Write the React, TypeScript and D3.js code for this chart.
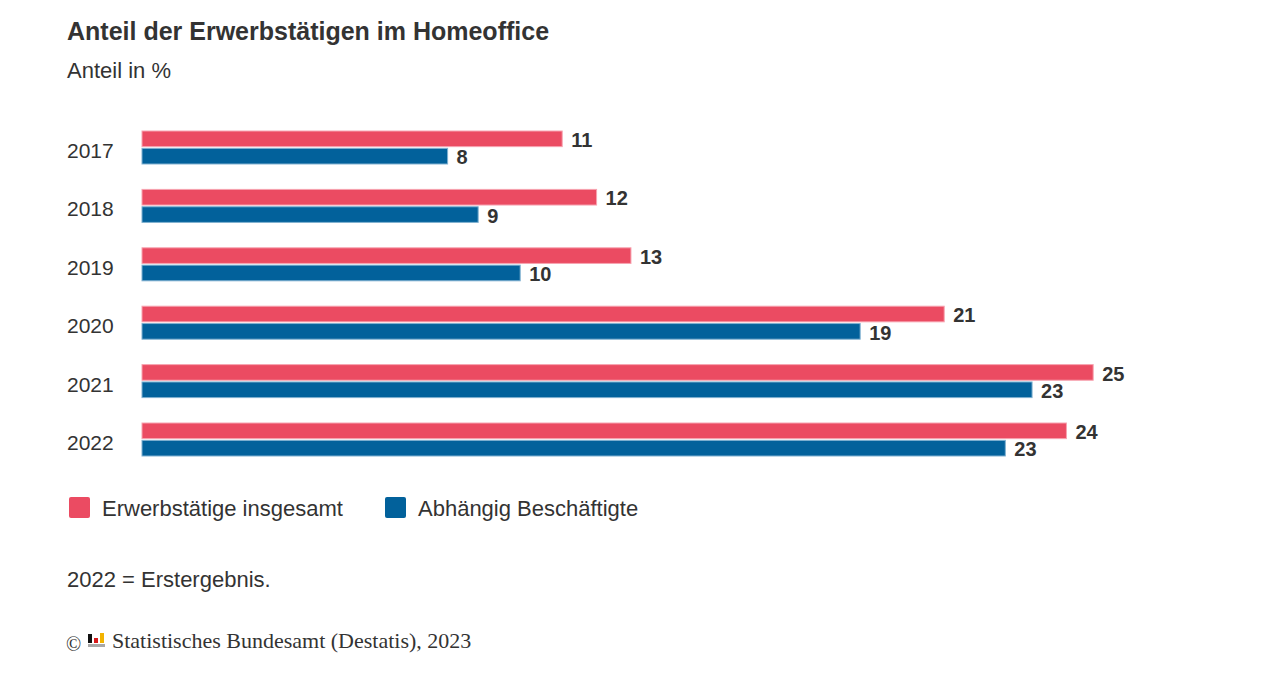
import React, { useEffect, useRef } from "react";
import * as d3 from "d3";

// Anteil der Erwerbstätigen im Homeoffice, in %
const years = ["2017", "2018", "2019", "2020", "2021", "2022"];
const totalValues = [11.0, 11.9, 12.8, 21.0, 24.9, 24.2]; // Erwerbstätige insgesamt
const employeeValues = [8.0, 8.8, 9.9, 18.8, 23.3, 22.6]; // Abhängig Beschäftigte
const seriesNames = ["Erwerbstätige insgesamt", "Abhängig Beschäftigte"];
const seriesColors = ["#eb4b62", "#02619b"];
const seriesStrokes = ["#f7a3b0", "#7fb0d0"];

const textColor = "#333333";
const sans = "'Liberation Sans', Arial, sans-serif";
const serif = "'Liberation Serif', 'Times New Roman', serif";

export default function App() {
  const ref = useRef<SVGSVGElement | null>(null);

  useEffect(() => {
    const svg = d3.select(ref.current);
    svg.selectAll("*").remove();

    const x = d3.scaleLinear().domain([0, 25]).range([142, 1097]);
    const y = d3
      .scaleBand<string>()
      .domain(years)
      .range([131, 456])
      .paddingInner(0.435)
      .paddingOuter(0);
    const ySub = d3
      .scaleBand<number>()
      .domain([0, 1])
      .range([0, y.bandwidth()])
      .paddingInner(0.1);

    // title
    svg
      .append("text")
      .attr("x", 67)
      .attr("y", 40)
      .attr("font-family", sans)
      .attr("font-size", 25)
      .attr("font-weight", "bold")
      .attr("fill", textColor)
      .text("Anteil der Erwerbstätigen im Homeoffice");

    svg
      .append("text")
      .attr("x", 67)
      .attr("y", 78)
      .attr("font-family", sans)
      .attr("font-size", 22)
      .attr("fill", textColor)
      .text("Anteil in %");

    const rows = years.map((yr, i) => ({
      year: yr,
      values: [totalValues[i], employeeValues[i]],
    }));

    const groups = svg
      .append("g")
      .selectAll("g.row")
      .data(rows)
      .join("g")
      .attr("class", "row")
      .attr("transform", (d) => `translate(0,${y(d.year)})`);

    groups
      .append("text")
      .attr("x", 67)
      .attr("y", y.bandwidth() / 2 + 3)
      .attr("dy", "0.36em")
      .attr("font-family", sans)
      .attr("font-size", 21)
      .attr("fill", textColor)
      .text((d) => d.year);

    groups
      .selectAll("rect")
      .data((d) => d.values.map((v, s) => ({ v, s })))
      .join("rect")
      .attr("x", x(0))
      .attr("y", (d) => ySub(d.s)!)
      .attr("width", (d) => x(d.v) - x(0))
      .attr("height", ySub.bandwidth())
      .attr("fill", (d) => seriesColors[d.s])
      .attr("stroke", (d) => seriesStrokes[d.s])
      .attr("stroke-width", 1);

    groups
      .selectAll("text.value")
      .data((d) => d.values.map((v, s) => ({ v, s })))
      .join("text")
      .attr("class", "value")
      .attr("x", (d) => x(d.v) + 9)
      .attr("y", (d) => ySub(d.s)! + ySub.bandwidth() / 2 + 1)
      .attr("dy", "0.36em")
      .attr("font-family", sans)
      .attr("font-size", 20)
      .attr("font-weight", "bold")
      .attr("fill", textColor)
      .text((d) => d3.format(".0f")(d.v));

    // legend
    const legendX = [69, 385];
    const legend = svg
      .append("g")
      .selectAll("g")
      .data(seriesNames)
      .join("g")
      .attr("transform", (_d, i) => `translate(${legendX[i]},497)`);
    legend
      .append("rect")
      .attr("width", 21)
      .attr("height", 21)
      .attr("rx", 2)
      .attr("fill", (_d, i) => seriesColors[i]);
    legend
      .append("text")
      .attr("x", 33)
      .attr("y", 11.5)
      .attr("dy", "0.36em")
      .attr("font-family", sans)
      .attr("font-size", 22)
      .attr("fill", textColor)
      .text((d) => d);

    svg
      .append("text")
      .attr("x", 67)
      .attr("y", 587)
      .attr("font-family", sans)
      .attr("font-size", 22)
      .attr("fill", textColor)
      .text("2022 = Erstergebnis.");

    // source line
    svg
      .append("text")
      .attr("x", 66)
      .attr("y", 651)
      .attr("font-family", serif)
      .attr("font-size", 20)
      .attr("fill", textColor)
      .text("©");
    const logo = svg.append("g").attr("transform", "translate(88,634)");
    logo.append("rect").attr("x", 0).attr("y", 0).attr("width", 4).attr("height", 9).attr("fill", "#111");
    logo.append("rect").attr("x", 6).attr("y", 4).attr("width", 4).attr("height", 5).attr("fill", "#d7191c");
    logo.append("rect").attr("x", 12).attr("y", -1).attr("width", 4).attr("height", 10).attr("fill", "#f2b300");
    logo.append("rect").attr("x", 0).attr("y", 10).attr("width", 17).attr("height", 3).attr("fill", "#a8a8a8");
    svg
      .append("text")
      .attr("x", 112)
      .attr("y", 648)
      .attr("font-family", serif)
      .attr("font-size", 22)
      .attr("fill", textColor)
      .text("Statistisches Bundesamt (Destatis), 2023");
  }, []);

  return (
    <svg
      ref={ref}
      width={1280}
      height={673}
      style={{ position: "absolute", left: 0, top: 0, background: "#fff" }}
    />
  );
}
